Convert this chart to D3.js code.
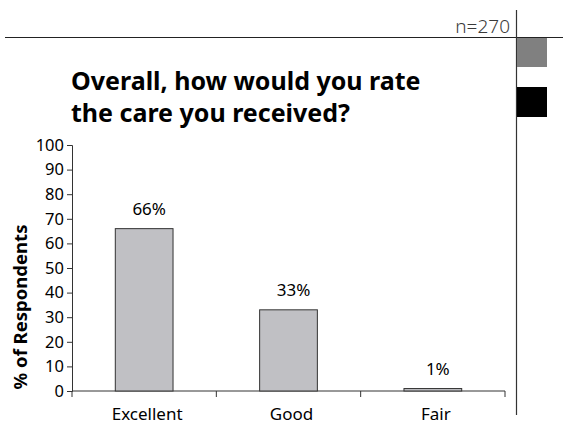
<!DOCTYPE html>
<html>
<head>
<meta charset="utf-8">
<script src="https://cdn.jsdelivr.net/npm/d3@7"></script>
<style>
  html, body { margin: 0; padding: 0; background: #fff; }
  svg { display: block; font-family: "Noto Sans", "Open Sans", sans-serif; }
</style>
</head>
<body>
<svg id="chart" width="563" height="425"></svg>
<script>
// Survey results
const categories = ["Excellent", "Good", "Fair"];
const values = [66, 33, 1];
const yTicks = [0, 10, 20, 30, 40, 50, 60, 70, 80, 90, 100];
const titleLines = ["Overall, how would you rate", "the care you received?"];
const sampleLabel = "n=270";

const svg = d3.select("#chart");

// Page frame: header rule, side rule and side markers
svg.append("line").attr("x1", 5).attr("x2", 563).attr("y1", 37.5).attr("y2", 37.5)
  .attr("stroke", "#222").attr("stroke-width", 1.2);
svg.append("line").attr("x1", 516.5).attr("x2", 516.5).attr("y1", 10).attr("y2", 415)
  .attr("stroke", "#333").attr("stroke-width", 1.2);
svg.append("rect").attr("x", 517).attr("y", 38).attr("width", 30).attr("height", 29).attr("fill", "#808080");
svg.append("rect").attr("x", 517).attr("y", 87).attr("width", 30).attr("height", 30).attr("fill", "#000");

svg.append("text").attr("x", 510).attr("y", 33).attr("text-anchor", "end")
  .attr("font-size", 19).attr("font-weight", 300).attr("fill", "#3a3a3a").text(sampleLabel);

// Title
svg.append("g").selectAll("text").data(titleLines).join("text")
  .attr("x", 71).attr("y", (d, i) => 90 + i * 32)
  .attr("font-size", 25).attr("font-weight", "bold").attr("fill", "#000")
  .text(d => d);

// Scales
const x = d3.scaleBand().domain(categories).range([72, 505]).padding(0);
const y = d3.scaleLinear().domain([0, 100]).range([391, 145]);
const barW = x.bandwidth() * 0.4;

// Y axis
const yAxis = svg.append("g").attr("transform", "translate(72,0)")
  .call(d3.axisLeft(y).tickValues(yTicks).tickSize(5).tickPadding(3));
yAxis.select(".domain").attr("stroke", "#333");
yAxis.selectAll(".tick line").attr("stroke", "#333");
yAxis.selectAll(".tick text").attr("font-size", 16.5).attr("fill", "#000")
  .attr("font-family", "\"Noto Sans\", sans-serif");

// X axis with ticks at category boundaries
const xAxisG = svg.append("g").attr("transform", "translate(0,391)");
xAxisG.append("line").attr("x1", 72).attr("x2", 505).attr("y1", 0).attr("y2", 0).attr("stroke", "#333");
const bounds = d3.range(categories.length + 1).map(i => x.range()[0] + i * x.step());
xAxisG.selectAll("line.tk").data(bounds).join("line").attr("class", "tk")
  .attr("x1", d => d).attr("x2", d => d).attr("y1", 0).attr("y2", 6).attr("stroke", "#333");
xAxisG.selectAll("text").data(categories).join("text")
  .attr("x", d => x(d) + x.bandwidth() / 2 + 3).attr("y", 29)
  .attr("text-anchor", "middle").attr("font-size", 17).attr("fill", "#000")
  .text(d => d);

// Bars
svg.append("g").selectAll("rect").data(categories).join("rect")
  .attr("x", d => x(d) + (x.bandwidth() - barW) / 2)
  .attr("y", (d, i) => y(values[i]))
  .attr("width", barW)
  .attr("height", (d, i) => y(0) - y(values[i]))
  .attr("fill", "#c0c0c4").attr("stroke", "#333").attr("stroke-width", 1);

// Value labels
svg.append("g").selectAll("text").data(categories).join("text")
  .attr("x", d => x(d) + x.bandwidth() / 2 + 5)
  .attr("y", (d, i) => y(values[i]) - 14)
  .attr("text-anchor", "middle").attr("font-size", 17).attr("fill", "#000")
  .text((d, i) => values[i] + "%");

// Y axis title
svg.append("text")
  .attr("transform", "translate(27,307) rotate(-90)")
  .attr("text-anchor", "middle").attr("font-size", 18.5).attr("font-weight", "bold")
  .attr("fill", "#000").text("% of Respondents");
</script>
</body>
</html>
